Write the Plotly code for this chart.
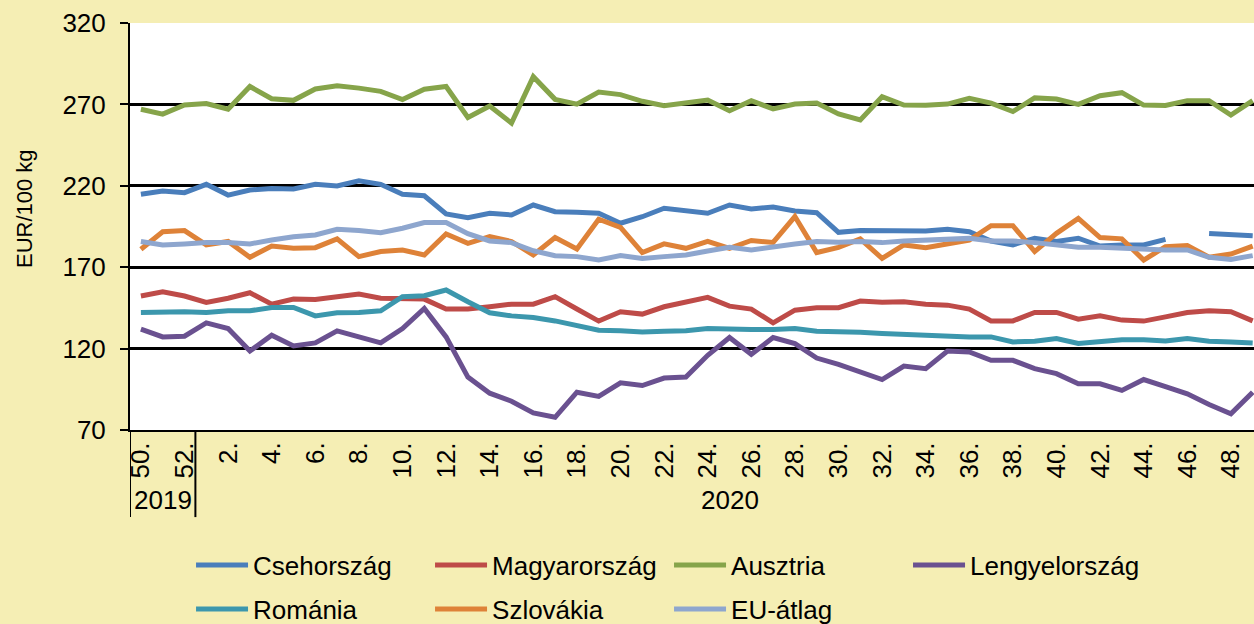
import plotly.graph_objects as go

weeks = ["50.", "51.", "52."] + [f"{w}." for w in range(1, 50)]

cz = [214.8, 216.8, 215.8, 220.9, 214.3, 217.4, 218.4, 218.0, 220.9, 219.9,
      223.1, 220.9, 214.8, 213.9, 202.7, 200.4, 203.1, 202.1, 208.2, 204.1,
      203.7, 203.1, 197.0, 201.0, 206.2, 204.7, 203.1, 208.2, 205.7, 207.0,
      204.5, 203.5, 191.4, 192.6, 192.6, 192.2, 192.2, 193.3, 191.8, 186.1,
      183.7, 187.8, 185.8, 187.8, 183.0, 183.7, 183.7, 187.1, None, 190.7,
      190.3, 189.3]
hu = [152.3, 154.9, 152.3, 148.4, 150.9, 154.3, 147.3, 150.4, 150.2, 151.9,
      153.5, 150.9, 150.4, 150.4, 144.3, 144.3, 145.7, 147.3, 147.3, 151.9,
      144.3, 136.9, 142.6, 141.2, 145.7, 148.4, 151.5, 146.1, 144.3, 135.8,
      143.6, 145.1, 145.1, 149.2, 148.4, 148.8, 147.3, 146.7, 144.3, 137.0,
      137.0, 142.2, 142.2, 138.1, 140.1, 137.5, 136.9, 139.5, 142.2, 143.2,
      142.6, 137.0]
at = [267.0, 264.0, 269.6, 270.5, 267.0, 281.0, 273.5, 272.5, 279.5, 281.4,
      280.0, 278.0, 273.0, 279.3, 281.0, 262.0, 269.0, 258.5, 287.0, 273.1,
      270.2, 277.6, 276.0, 271.9, 269.2, 271.3, 272.7, 266.1, 272.3, 267.2,
      270.2, 270.9, 264.1, 260.4, 274.7, 269.6, 269.5, 270.2, 273.7, 270.8,
      265.6, 274.0, 273.3, 270.0, 275.3, 277.2, 269.6, 269.4, 272.3, 272.3,
      263.5, 272.3]
pl = [131.9, 127.2, 127.6, 135.8, 132.3, 118.5, 128.2, 121.6, 123.5, 130.9,
      127.2, 123.5, 132.3, 144.7, 127.2, 102.5, 92.6, 87.7, 80.5, 77.8,
      93.2, 90.6, 99.0, 97.3, 101.9, 102.5, 115.9, 126.8, 116.5, 126.8,
      123.1, 114.2, 110.3, 105.6, 101.0, 109.3, 107.7, 118.5, 117.9, 112.8,
      112.8, 107.7, 104.6, 98.4, 98.4, 94.3, 101.0, 96.7, 92.2, 85.6,
      79.9, 93.2]
ro = [142.2, 142.6, 142.6, 142.2, 143.2, 143.2, 145.3, 145.3, 140.1, 142.0,
      142.2, 143.2, 151.9, 152.5, 156.0, 148.8, 142.0, 140.1, 139.1, 137.0,
      134.0, 131.3, 130.9, 130.2, 130.6, 130.9, 132.3, 131.7, 131.7, 131.7,
      132.3, 130.6, 130.6, 130.0, 129.3, 128.8, 128.2, 127.2, 127.2, 127.2,
      124.1, 124.5, 126.2, 123.1, 124.1, 125.5, 125.5, 124.7, 126.2, 124.5,
      124.1, 123.5]
sk = [181.0, 191.8, 192.5, 183.7, 185.8, 176.1, 183.0, 181.6, 182.0, 187.4,
      176.5, 179.6, 180.6, 177.5, 190.4, 184.7, 188.8, 185.8, 177.5, 188.2,
      181.2, 199.5, 194.5, 179.0, 184.3, 181.6, 185.8, 181.6, 186.4, 185.2,
      201.1, 179.0, 182.2, 187.4, 175.4, 183.7, 182.0, 184.7, 186.7, 195.5,
      195.5, 179.6, 190.8, 200.0, 188.2, 187.4, 174.4, 182.6, 183.3, 176.1,
      178.1, 183.0]
eu = [185.8, 183.7, 184.3, 185.1, 185.1, 184.3, 186.7, 188.7, 189.8, 193.3,
      192.5, 191.2, 193.9, 197.4, 197.4, 190.6, 186.1, 185.1, 180.1, 177.1,
      176.5, 174.4, 177.1, 175.4, 176.5, 177.5, 179.9, 182.2, 180.6, 182.6,
      184.3, 185.8, 185.4, 185.8, 185.1, 186.1, 186.7, 187.7, 187.7, 186.1,
      186.1, 185.1, 183.7, 182.2, 182.2, 181.6, 181.6, 180.6, 180.6, 176.1,
      174.8, 177.1]

series = [
    ("Csehország", cz, "#4A7EBB", "legend"),
    ("Magyarország", hu, "#BE4B48", "legend"),
    ("Ausztria", at, "#86A44A", "legend"),
    ("Lengyelország", pl, "#6A5190", "legend"),
    ("Románia", ro, "#3C97AD", "legend2"),
    ("Szlovákia", sk, "#DE8238", "legend2"),
    ("EU-átlag", eu, "#8EA6CE", "legend2"),
]

years = ["2019", "2020"]
year_counts = [3, 49]

x = list(range(len(weeks)))
FONT = "Liberation Sans, Arial, sans-serif"
BG = "#F5EEB4"

fig = go.Figure()
for name, vals, col, lg in series:
    fig.add_trace(go.Scatter(x=x, y=vals, name=name, mode="lines",
                             line=dict(color=col, width=5),
                             connectgaps=False, legend=lg))

tickvals = x[::2]
ticktext = [weeks[i] for i in tickvals]

start = -0.5
shapes = []
annotations = []
for yr, cnt in zip(years, year_counts):
    end = start + cnt
    shapes.append(dict(type="line", xref="x", yref="paper", x0=start, x1=start,
                       y0=0, y1=-0.214, line=dict(color="black", width=2)))
    annotations.append(dict(text=yr, xref="x", yref="paper", x=(start + end) / 2,
                            y=-0.172, showarrow=False, yanchor="middle",
                            font=dict(size=26, color="black", family=FONT)))
    start = end

annotations.append(dict(text="EUR/100 kg", xref="paper", yref="paper",
                        x=-0.0934, y=0.543, textangle=-90, showarrow=False,
                        xanchor="center", yanchor="middle",
                        font=dict(size=22, color="black", family=FONT)))

leg_common = dict(orientation="h", x=0.0543, xanchor="left", yanchor="middle",
                  entrywidth=172, entrywidthmode="pixels", itemwidth=52,
                  bgcolor="rgba(0,0,0,0)", font=dict(size=26, family=FONT,
                                                    color="black"))

fig.update_layout(
    width=1254, height=624,
    margin=dict(l=130, r=0, t=23, b=194, autoexpand=False),
    paper_bgcolor=BG,
    plot_bgcolor="white",
    font=dict(family=FONT, color="black", size=26),
    shapes=shapes,
    annotations=annotations,
    showlegend=True,
    legend=dict(y=-0.332, **leg_common),
    legend2=dict(y=-0.44, **leg_common),
)
fig.update_xaxes(range=[-0.5, 51.06], tickmode="array", tickvals=tickvals,
                 ticktext=ticktext, tickangle=-90, showgrid=False,
                 showline=True, linecolor="black", linewidth=2, ticks="",
                 zeroline=False, tickfont=dict(size=26), automargin=False)
fig.update_yaxes(range=[70, 320], tickvals=[70, 120, 170, 220, 270, 320],
                 showgrid=True, gridcolor="black", gridwidth=2.5,
                 showline=True, linecolor="black", linewidth=2,
                 ticks="outside", ticklen=8, tickwidth=2, tickcolor="black",
                 ticklabelstandoff=9,
                 zeroline=False, tickfont=dict(size=26), automargin=False)

fig.write_html(
    "out.html",
    config={"displayModeBar": False},
    post_script=("document.body.style.margin='0';"
                 "document.body.style.overflow='hidden';"
                 f"document.body.style.background='{BG}';"),
)
